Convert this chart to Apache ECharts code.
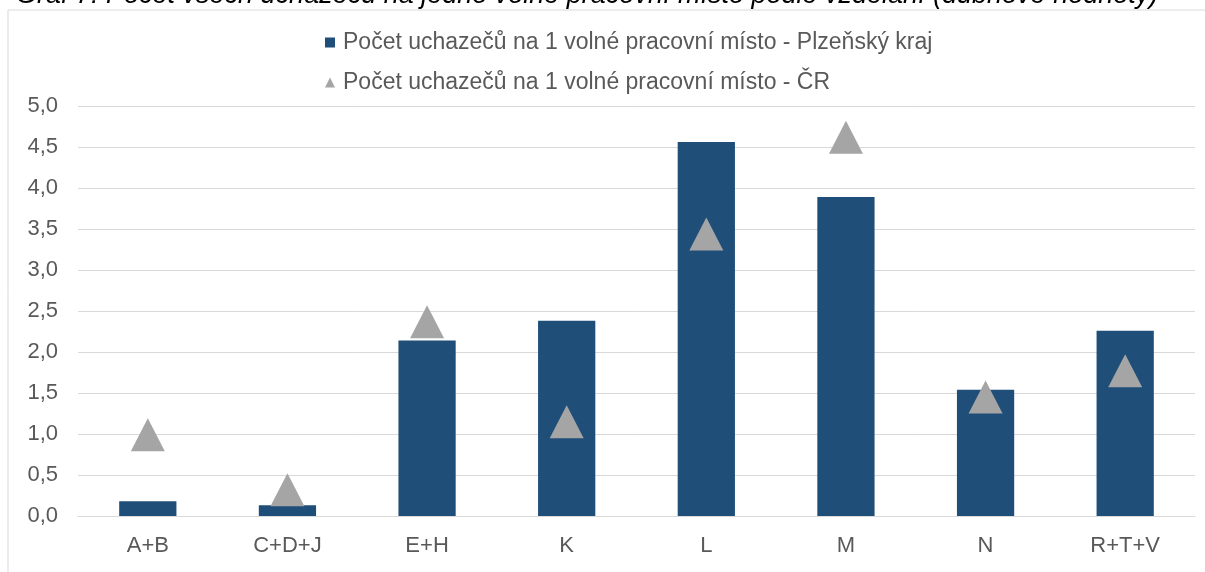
<!DOCTYPE html>
<html>
<head>
<meta charset="utf-8">
<script src="https://cdn.jsdelivr.net/npm/echarts@6/dist/echarts.min.js"></script>
<style>
  html, body { margin: 0; padding: 0; background: #fff; }
  #main { width: 1205px; height: 572px; }
</style>
</head>
<body>
<div id="main"></div>
<script>
// kategorie vzdělání
const categories = ["A+B", "C+D+J", "E+H", "K", "L", "M", "N", "R+T+V"];
// Plzeňský kraj (sloupce)
const plzenValues = [0.18, 0.13, 2.14, 2.38, 4.56, 3.89, 1.54, 2.26];
// ČR (trojúhelníky)
const crValues = [0.99, 0.32, 2.37, 1.15, 3.44, 4.62, 1.45, 1.77];
const seriesNames = [
  "Počet uchazečů na 1 volné pracovní místo - Plzeňský kraj",
  "Počet uchazečů na 1 volné pracovní místo - ČR"
];
const titleText = "Graf 7: Počet všech uchazečů na jedno volné pracovní místo podle vzdělání (dubnové hodnoty)";

const myChart = echarts.init(document.getElementById("main"));
const fontFamily = "'Liberation Sans', Arial, sans-serif";

const option = {
  animation: false,
  textStyle: { fontFamily: fontFamily },
  graphic: [
    {
      type: "text",
      left: 16,
      top: -18,
      style: {
        text: titleText,
        font: "italic 27px " + fontFamily,
        fill: "#000"
      }
    },
    {
      type: "rect",
      shape: { x: 8, y: 10, width: 1300, height: 700 },
      style: { fill: "none", stroke: "#d9d9d9", lineWidth: 1 },
      z: -1
    }
  ],
  legend: {
    orient: "vertical",
    left: 320,
    top: 26,
    itemGap: 17,
    itemWidth: 10,
    itemHeight: 10,
    textStyle: { fontSize: 23, color: "#595959", padding: [0, 0, 0, 3] },
    data: [
      { name: seriesNames[0], icon: "rect" },
      { name: seriesNames[1], icon: "triangle" }
    ]
  },
  grid: { left: 78, right: 10, top: 106, bottom: 56 },
  xAxis: {
    type: "category",
    data: categories,
    axisLine: { show: true, lineStyle: { color: "#d9d9d9" } },
    axisTick: { show: false },
    axisLabel: { fontSize: 22, color: "#595959", margin: 19 }
  },
  yAxis: {
    type: "value",
    min: 0,
    max: 5,
    interval: 0.5,
    axisLine: { show: false },
    axisTick: { show: false },
    axisLabel: {
      fontSize: 22,
      color: "#595959",
      margin: 20,
      formatter: v => v.toFixed(1).replace(".", ",")
    },
    splitLine: { lineStyle: { color: "#d9d9d9", width: 1 } }
  },
  series: [
    {
      name: seriesNames[0],
      type: "bar",
      data: plzenValues,
      barWidth: "41%",
      itemStyle: { color: "#1f4e79" }
    },
    {
      name: seriesNames[1],
      type: "scatter",
      data: crValues,
      symbol: "triangle",
      symbolSize: [34, 33],
      itemStyle: { color: "#a5a5a5", opacity: 1 },
      z: 3
    }
  ]
};

myChart.setOption(option);
</script>
</body>
</html>
